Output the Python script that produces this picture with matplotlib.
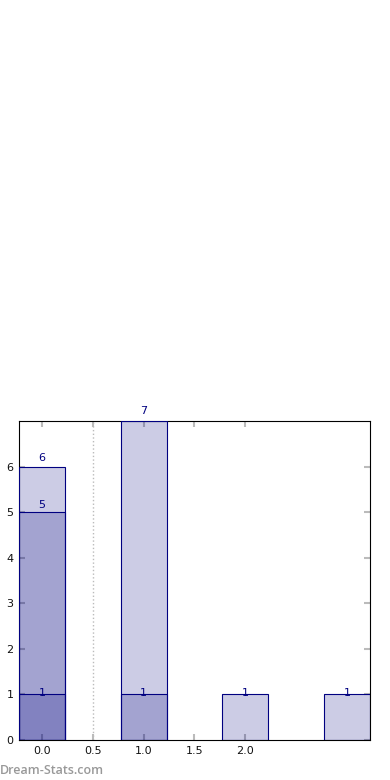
import numpy as np
import matplotlib.pyplot as plt

# Datos: tres series de barras superpuestas (con transparencia)
posiciones = [0, 1, 2, 3]
serie_1 = [6, 7, 1, 1]
serie_2 = [5, 1, 0, 0]
serie_3 = [1, 0, 0, 0]
series = [serie_1, serie_2, serie_3]
xticks = [0.0, 0.5, 1.0, 1.5, 2.0]
yticks = [0, 1, 2, 3, 4, 5, 6]

fig = plt.figure(figsize=(3.9, 7.8), dpi=100)
ax = fig.add_axes([0.0487, 0.0513, 0.9, 0.409])

for s in series:
    for x, v in zip(posiciones, s):
        if v == 0:
            continue
        ax.bar(x, v, width=0.45, color='navy', alpha=0.2, zorder=2)
        ax.bar(x, v, width=0.45, fill=False, edgecolor='navy', linewidth=0.8, zorder=3)
        ax.text(x, v * 1.03, str(v), ha='center', va='center', color='navy', fontsize=8, zorder=4)

ax.axvline(0.5, color='#bbbbbb', linestyle=':', linewidth=1, zorder=1)

ax.set_xlim(-0.225, 3.225)
ax.set_ylim(0, 7)
ax.set_xticks(xticks)
ax.set_xticklabels([f"{t:.1f}" for t in xticks])
ax.set_yticks(yticks)
ax.tick_params(direction='in', length=4, width=1.5, color='#bbbbbb', labelsize=8,
               labelcolor='#111111', top=True, right=True, pad=4)
for sp in ax.spines.values():
    sp.set_linewidth(0.8)

fig.text(0.0, 0.0125, "Dream-Stats.com", color='#999999', fontsize=9, fontweight='semibold',
         family='Open Sans', ha='left', va='center')

fig.savefig("out.png", dpi=100)
